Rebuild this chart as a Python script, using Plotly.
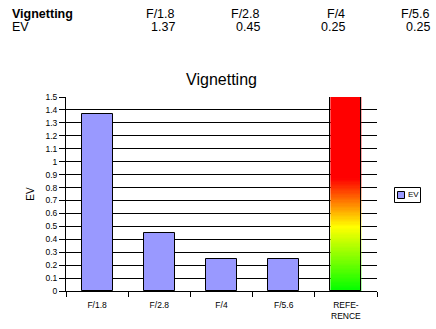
import numpy as np
import plotly.graph_objects as go

# ---- data ----
categories = ["F/1.8", "F/2.8", "F/4", "F/5.6"]
ev_values = [1.37, 0.45, 0.25, 0.25]
ref_label = "REFE-<br>RENCE"
ref_value = 1.5
table_title = "Vignetting"
row_label = "EV"
chart_title = "Vignetting"
series_name = "EV"

W, H = 436, 329
l, r, t, b = 66, 59, 97, 38
pw, ph = W - l - r, H - t - b
FONT = "Arial, Liberation Sans, sans-serif"
BAR_COLOR = "#9999FF"

def px_x(px):
    return (px - l) / pw

def px_y(py):
    return (H - b - py) / ph

n = len(categories) + 1
xs = list(range(len(categories)))
ref_x = len(categories)
bw = 0.5

fig = go.Figure()

# gradient reference column
edges = np.linspace(0, ref_value, 151)
mids = (edges[:-1] + edges[1:]) / 2
fig.add_trace(go.Heatmap(
    x=[ref_x - bw / 2, ref_x + bw / 2], y=edges, z=[[v] for v in mids],
    zmin=0, zmax=ref_value, showscale=False, hoverinfo="skip",
    colorscale=[[0, "#00FF00"], [0.33, "#FFFF00"], [0.58, "#FF0000"], [1, "#FF0000"]],
))
fig.add_trace(go.Bar(
    x=[ref_x], y=[ref_value], width=bw, showlegend=False,
    marker=dict(color="rgba(0,0,0,0)", line=dict(color="black", width=1)),
))
fig.add_trace(go.Bar(
    x=xs, y=ev_values, width=bw, name=series_name, showlegend=False,
    marker=dict(color=BAR_COLOR, line=dict(color="black", width=1)),
))

TF = dict(size=12.5, color="black", family=FONT)
annotations = []
col_right = [176.5, 261.5, 346.5, 431.5]
row1, row2 = 13.7, 26.6
annotations.append(dict(text="<b>%s</b>" % table_title, x=px_x(10), y=px_y(row1), xanchor="left",
                        yanchor="middle", font=TF))
annotations.append(dict(text=row_label, x=px_x(10), y=px_y(row2), xanchor="left",
                        yanchor="middle", font=TF))
for c, v, xr in zip(categories, ev_values, col_right):
    annotations.append(dict(text=c, x=px_x(xr), y=px_y(row1), xanchor="right", yanchor="middle", font=TF))
    annotations.append(dict(text="%.2f" % v, x=px_x(xr), y=px_y(row2), xanchor="right", yanchor="middle", font=TF))
# legend text
annotations.append(dict(text=series_name, x=px_x(406), y=px_y(194.5), xanchor="left", yanchor="middle",
                        font=dict(size=8, color="black", family=FONT)))
for a in annotations:
    a.update(xref="paper", yref="paper", showarrow=False)

shapes = [
    # legend box
    dict(type="rect", xref="paper", yref="paper", x0=px_x(394.5), x1=px_x(420.5),
         y0=px_y(202.5), y1=px_y(187.5), line=dict(color="black", width=1), fillcolor="white"),
    # legend swatch
    dict(type="rect", xref="paper", yref="paper", x0=px_x(397.5), x1=px_x(404.5),
         y0=px_y(198.5), y1=px_y(191.5), line=dict(color="black", width=1), fillcolor=BAR_COLOR),
]

fig.update_layout(
    width=W, height=H, margin=dict(l=l, r=r, t=t, b=b, autoexpand=False),
    paper_bgcolor="white", plot_bgcolor="white",
    barmode="overlay", bargap=0,
    font=dict(family=FONT, color="black", size=9),
    title=dict(text=chart_title, x=0.5, xref="paper", y=1 - 79 / H, yanchor="middle",
               xanchor="center", font=dict(size=16, family=FONT, color="black")),
    showlegend=False,
    annotations=annotations,
    shapes=shapes,
    xaxis=dict(range=[-0.5, n - 0.5], tickmode="array", tickvals=list(range(n)),
               ticktext=categories + [ref_label], ticks="", showgrid=False, zeroline=False,
               showline=True, linecolor="black", linewidth=1, ticklabelstandoff=6,
               tickfont=dict(size=8.5, family=FONT),
               minor=dict(tickmode="linear", tick0=-0.5, dtick=1, ticks="outside",
                          ticklen=5, tickcolor="black", tickwidth=1, showgrid=False)),
    yaxis=dict(range=[0, ref_value], dtick=0.1, tick0=0, showgrid=True, gridcolor="black",
               gridwidth=1, zeroline=False, showline=True, linecolor="black", linewidth=1,
               ticks="outside", ticklen=6, tickcolor="black", tickfont=dict(size=8.5, family=FONT),
               title=dict(text="EV", font=dict(size=10, family=FONT), standoff=8)),
)

fig.write_html("out.html")
